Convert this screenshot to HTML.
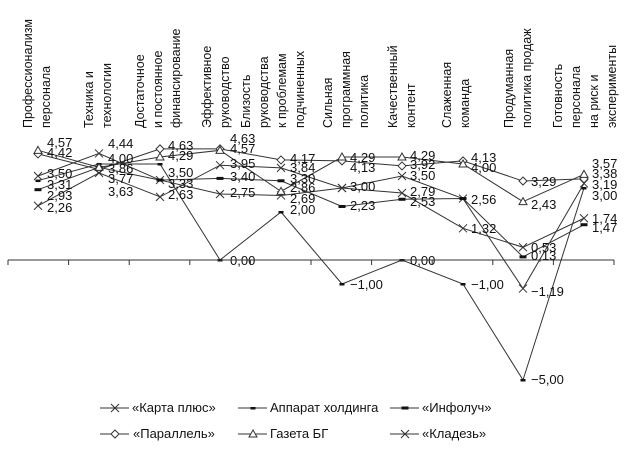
<!DOCTYPE html>
<html><head><meta charset="utf-8"><style>
html,body{margin:0;padding:0;background:#fff}
svg{display:block}
text{font-family:"Liberation Sans",sans-serif;fill:#111}
</style></head><body>
<svg id="s" width="624" height="459" xmlns="http://www.w3.org/2000/svg">
<g font-size="12.5">
<g transform="translate(32,128) rotate(-90)"><text>Профессионализм</text><text y="18">персонала</text></g>
<g transform="translate(93,128) rotate(-90)"><text>Техника и</text><text y="18">технологии</text></g>
<g transform="translate(144,128) rotate(-90)"><text>Достаточное</text><text y="18">и постоянное</text><text y="36">финансирование</text></g>
<g transform="translate(211,128) rotate(-90)"><text>Эффективное</text><text y="18">руководство</text></g>
<g transform="translate(250,128) rotate(-90)"><text>Близость</text><text y="18">руководства</text><text y="36">к проблемам</text><text y="54">подчиненных</text></g>
<g transform="translate(332,128) rotate(-90)"><text>Сильная</text><text y="18">программная</text><text y="36">политика</text></g>
<g transform="translate(397,128) rotate(-90)"><text>Качественный</text><text y="18">контент</text></g>
<g transform="translate(451,128) rotate(-90)"><text>Слаженная</text><text y="18">команда</text></g>
<g transform="translate(513,128) rotate(-90)"><text>Продуманная</text><text y="18">политика продаж</text></g>
<g transform="translate(562,128) rotate(-90)"><text>Готовность</text><text y="18">персонала</text><text y="36">на риск и</text><text y="54">эксперименты</text></g>
</g>
<g id="plot" stroke="#333" fill="none" stroke-width="1"></g>
<g font-size="13">
<text x="47" y="147">4,57</text><text x="47" y="157">4,42</text><text x="47" y="178">3,50</text><text x="47" y="189">3,31</text><text x="47" y="200">2,93</text><text x="47" y="212">2,26</text>
<text x="108" y="148">4,44</text><text x="108" y="163">4,00</text><text x="108" y="173">3,86</text><text x="108" y="183">3,77</text><text x="108" y="196">3,63</text>
<text x="168" y="150">4,63</text><text x="168" y="160">4,29</text><text x="168" y="177">3,50</text><text x="168" y="188">3,33</text><text x="168" y="199">2,63</text>
<text x="230" y="143">4,63</text><text x="230" y="153">4,57</text><text x="230" y="168">3,95</text><text x="230" y="181">3,40</text><text x="230" y="197">2,75</text><text x="230" y="265">0,00</text>
<text x="290" y="163">4,17</text><text x="290" y="172">3,84</text><text x="290" y="183">3,30</text><text x="290" y="192">2,86</text><text x="290" y="203">2,69</text><text x="290" y="214">2,00</text>
<text x="350" y="162">4,29</text><text x="350" y="172">4,13</text><text x="350" y="191">3,00</text><text x="350" y="210">2,23</text><text x="350" y="289">−1,00</text>
<text x="410" y="160">4,29</text><text x="410" y="169">3,92</text><text x="410" y="180">3,50</text><text x="410" y="196">2,79</text><text x="410" y="206">2,53</text><text x="410" y="265">0,00</text>
<text x="471" y="162">4,13</text><text x="471" y="172">4,00</text><text x="471" y="204">2,56</text><text x="471" y="233">1,32</text><text x="471" y="289">−1,00</text>
<text x="531" y="186">3,29</text><text x="531" y="209">2,43</text><text x="531" y="252">0,53</text><text x="531" y="260">0,13</text><text x="531" y="296">−1,19</text><text x="531" y="384">−5,00</text>
<text x="592" y="168">3,57</text><text x="592" y="178">3,38</text><text x="592" y="189">3,19</text><text x="592" y="200">3,00</text><text x="592" y="223">1,74</text><text x="592" y="232">1,47</text>
</g>
<g stroke="#333" fill="none">
<line x1="8" y1="260" x2="614" y2="260"/>
</g>
<g id="ticks" stroke="#333"></g>
<g font-size="13">
<text x="132" y="412">«Карта плюс»</text>
<text x="270" y="412">Аппарат холдинга</text>
<text x="422" y="412">«Инфолуч»</text>
<text x="133" y="438">«Параллель»</text>
<text x="270" y="438">Газета БГ</text>
<text x="422" y="438">«Кладезь»</text>
</g>
<g id="leg" stroke="#333" fill="none"></g>
</svg>
<script>
var X=[38,99,160,220,281,342,402,463,523,584];
function Y(v){return 260-24*v;}
var S=[
 {m:'x',d:[3.50,4.44,3.33,2.75,2.69,3.00,3.50,2.56,-1.19,3.19]},
 {m:'s',d:[3.31,4.00,4.00,0,2.00,-1,0,-1,-5,3.00]},
 {m:'b',d:[2.93,3.86,3.33,3.40,3.30,2.23,2.53,2.56,0.13,1.47]},
 {m:'d',d:[4.42,3.77,4.63,4.63,4.17,4.13,3.92,4.13,3.29,3.38]},
 {m:'t',d:[4.57,3.86,4.29,4.57,2.86,4.29,4.29,4.00,2.43,3.57]},
 {m:'x',d:[2.26,3.63,2.63,3.95,3.84,3.00,2.79,1.32,0.53,1.74]}
];
var ns="http://www.w3.org/2000/svg";
function el(p,t,a){var e=document.createElementNS(ns,t);for(var k in a)e.setAttribute(k,a[k]);p.appendChild(e);return e;}
function mark(g,m,x,y){
 if(m=='x'){el(g,'path',{d:'M'+(x-4)+' '+(y-4)+'L'+(x+4)+' '+(y+4)+'M'+(x-4)+' '+(y+4)+'L'+(x+4)+' '+(y-4)});}
 else if(m=='s'){el(g,'rect',{x:x-2.5,y:y-1,width:5,height:2.5,fill:'#111',stroke:'none'});}
 else if(m=='b'){el(g,'rect',{x:x-3.5,y:y-1.5,width:7,height:3,fill:'#111',stroke:'none'});}
 else if(m=='d'){el(g,'path',{d:'M'+x+' '+(y-4)+'L'+(x+4)+' '+y+'L'+x+' '+(y+4)+'L'+(x-4)+' '+y+'Z',fill:'#fff'});}
 else if(m=='t'){el(g,'path',{d:'M'+x+' '+(y-4)+'L'+(x+4)+' '+(y+3)+'L'+(x-4)+' '+(y+3)+'Z',fill:'#fff'});}
}
var g=document.getElementById('plot');
S.forEach(function(s){var p=s.d.map(function(v,i){return X[i]+','+Y(v);}).join(' ');el(g,'polyline',{points:p});});
S.forEach(function(s){s.d.forEach(function(v,i){mark(g,s.m,X[i],Y(v));});});
var t=document.getElementById('ticks');
for(var i=0;i<=10;i++){var x=8+60.6*i;el(t,'line',{x1:x,y1:260,x2:x,y2:265});}
var L=document.getElementById('leg');
[[100,408,'x'],[238,408,'s'],[390,408,'b'],[100,434,'d'],[238,434,'t'],[390,434,'x']].forEach(function(a){
 el(L,'line',{x1:a[0],y1:a[1],x2:a[0]+29,y2:a[1]});mark(L,a[2],a[0]+15,a[1]);});
</script>
</body></html>
